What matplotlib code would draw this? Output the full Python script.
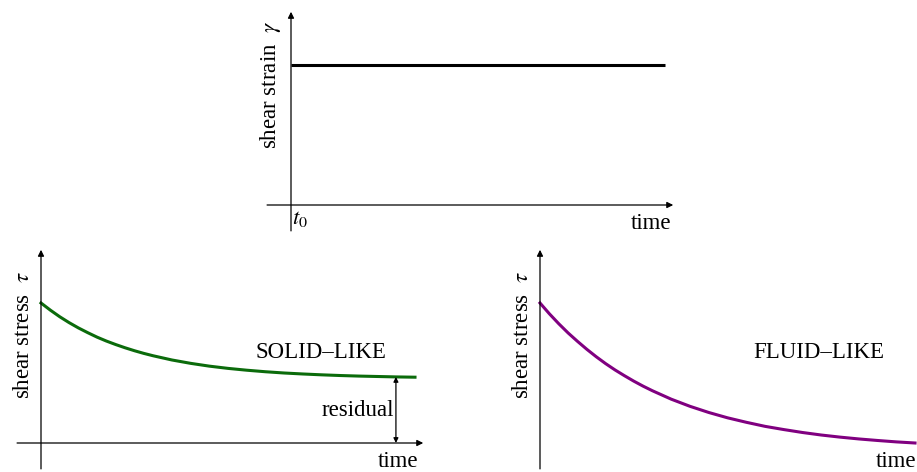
import matplotlib
matplotlib.use('Agg')
import matplotlib.pyplot as plt

plt.rcParams['font.family'] = ['Liberation Serif', 'DejaVu Serif']
plt.rcParams['mathtext.fontset'] = 'stix'

# 数据 (time in arbitrary units, values normalised to the initial level)
t_strain = [0, 10]
strain = [1.0, 1.0]

t_curve = [0, 0.25, 0.5, 0.75, 1, 1.25, 1.5, 1.75, 2, 2.25, 2.5, 2.75, 3, 3.5,
           4, 4.5, 5, 5.5, 6, 6.5, 7, 7.5, 8, 8.5, 9, 9.5, 10]
stress_solid = [1.000, 0.949, 0.902, 0.860, 0.822, 0.788, 0.756, 0.728, 0.703,
                0.680, 0.659, 0.640, 0.623, 0.593, 0.569, 0.549, 0.533, 0.520,
                0.509, 0.500, 0.493, 0.487, 0.482, 0.478, 0.475, 0.472, 0.470]
stress_fluid = [1.000, 0.923, 0.852, 0.786, 0.726, 0.669, 0.616, 0.567, 0.522,
                0.481, 0.442, 0.406, 0.373, 0.313, 0.262, 0.218, 0.180, 0.148,
                0.119, 0.096, 0.075, 0.057, 0.042, 0.029, 0.018, 0.008, 0.000]
t_residual = 9.49
residual = 0.472

W, H = 917, 472
FS = 16.5
fig = plt.figure(figsize=(W / 100, H / 100), dpi=100)


def panel(left, top, right, bottom, ox, oy, sx=37.4, sy=140.0):
    # axes placed in pixel box, data units: time / normalised value
    ax = fig.add_axes([left / W, (H - bottom) / H, (right - left) / W, (bottom - top) / H])
    ax.set_xlim((left - ox) / sx, (right - ox) / sx)
    ax.set_ylim((oy - bottom) / sy, (oy - top) / sy)
    ax.axis('off')
    arr = dict(arrowstyle='-|>', lw=0.9, color='black', mutation_scale=9,
               shrinkA=0, shrinkB=0)
    ax.annotate('', xy=(10.22, 0), xytext=(-0.64, 0), arrowprops=arr)
    ax.annotate('', xy=(0, 1.38), xytext=(0, -0.185), arrowprops=arr)
    return ax


# top: shear strain
ax1 = panel(250, 0, 700, 240, 291, 205)
ax1.plot(t_strain, strain, color='black', lw=2.2, solid_capstyle='butt')
ax1.text(-0.56, 0.86, r'shear strain  $\gamma$', rotation=90, ha='center', va='center', fontsize=FS)
ax1.text(0.02, -0.02, r'$t_0$', ha='left', va='top', fontsize=FS)
ax1.text(10.16, -0.06, 'time', ha='right', va='top', fontsize=FS)

# bottom left: solid-like
ax2 = panel(0, 240, 460, 472, 41, 443)
ax2.plot(t_curve, stress_solid, color='#0b6b0b', lw=2.2, solid_joinstyle='round')
ax2.annotate('', xy=(t_residual, residual), xytext=(t_residual, 0),
             arrowprops=dict(arrowstyle='<|-|>', lw=0.9, color='black',
                             mutation_scale=7, shrinkA=0, shrinkB=0))
ax2.text(-0.48, 0.77, r'shear stress  $\tau$', rotation=90, ha='center', va='center', fontsize=FS)
ax2.text(7.49, 0.65, 'SOLID–LIKE', ha='center', va='center', fontsize=FS)
ax2.text(9.44, 0.235, 'residual', ha='right', va='center', fontsize=FS)
ax2.text(10.08, -0.06, 'time', ha='right', va='top', fontsize=FS)

# bottom right: fluid-like
ax3 = panel(500, 240, 917, 472, 540, 443, sx=37.5)
ax3.plot(t_curve, stress_fluid, color='#800080', lw=2.2, solid_joinstyle='round')
ax3.text(-0.48, 0.77, r'shear stress  $\tau$', rotation=90, ha='center', va='center', fontsize=FS)
ax3.text(7.44, 0.65, 'FLUID–LIKE', ha='center', va='center', fontsize=FS)
ax3.text(10.03, -0.06, 'time', ha='right', va='top', fontsize=FS)

plt.savefig('out.png', dpi=100)
